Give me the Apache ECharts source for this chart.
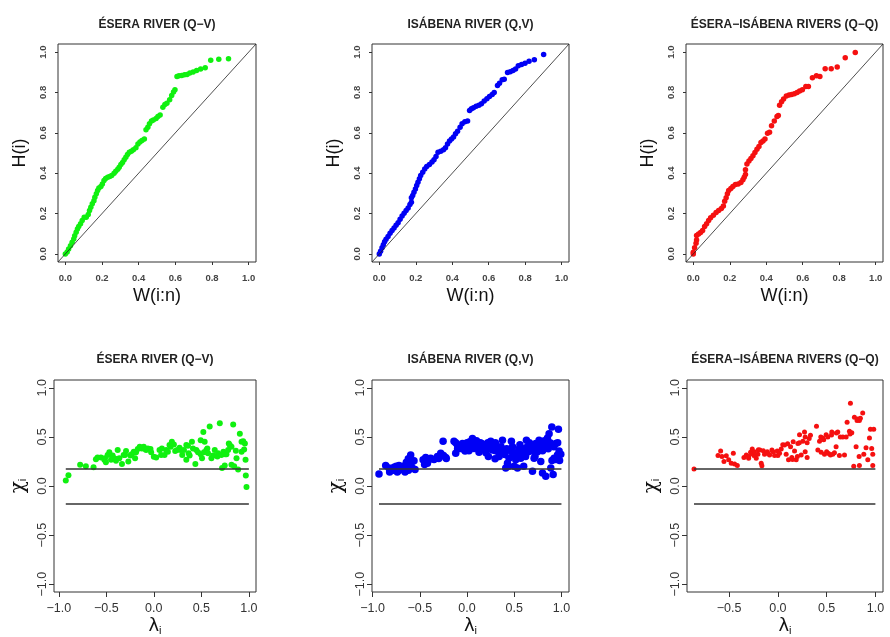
<!DOCTYPE html>
<html><head><meta charset="utf-8">
<script src="https://cdn.jsdelivr.net/npm/echarts@6/dist/echarts.min.js"></script>
<style>html,body{margin:0;padding:0;background:#fff}#c{width:890px;height:637px}</style>
</head><body><div id="c"></div>
<script>
// ---------- data ----------
const panelTitles = ['ÉSERA RIVER (Q\u2212V)', 'ISÁBENA RIVER (Q,V)', 'ÉSERA\u2212ISÁBENA RIVERS (Q\u2212Q)'];
const kTicks = [0, 0.2, 0.4, 0.6, 0.8, 1.0];
const chiTicks = [-1, -0.5, 0, 0.5, 1];
const lamTicks = [-1, -0.5, 0, 0.5, 1];
const chiCut = 0.18;
const lamEnd = 1.0;
const seriesColors = ['#10f010', '#0000f5', '#f51010'];

// K-plots: [W(i:n), H(i)]
const esK = [[0,0],[0.01,0.01],[0.018,0.025],[0.028,0.04],[0.037,0.058],[0.046,0.074],[0.051,0.09],[0.059,0.107],[0.066,0.124],[0.073,0.136],[0.083,0.149],[0.092,0.165],[0.103,0.182],[0.114,0.182],[0.125,0.195],[0.132,0.215],[0.139,0.231],[0.147,0.248],[0.156,0.264],[0.161,0.281],[0.169,0.298],[0.176,0.314],[0.183,0.327],[0.194,0.334],[0.202,0.347],[0.211,0.364],[0.22,0.374],[0.231,0.38],[0.242,0.383],[0.253,0.388],[0.266,0.4],[0.275,0.41],[0.286,0.42],[0.294,0.43],[0.303,0.443],[0.312,0.453],[0.321,0.466],[0.33,0.479],[0.339,0.493],[0.349,0.504],[0.36,0.509],[0.371,0.516],[0.385,0.526],[0.396,0.545],[0.407,0.555],[0.418,0.562],[0.431,0.569],[0.44,0.615],[0.45,0.628],[0.459,0.645],[0.47,0.658],[0.48,0.664],[0.495,0.671],[0.505,0.681],[0.517,0.688],[0.532,0.727],[0.543,0.74],[0.554,0.747],[0.569,0.764],[0.58,0.785],[0.59,0.802],[0.598,0.813],[0.609,0.879],[0.62,0.883],[0.635,0.884],[0.65,0.888],[0.664,0.889],[0.679,0.896],[0.697,0.901],[0.716,0.909],[0.738,0.916],[0.763,0.922],[0.793,0.959],[0.837,0.965],[0.89,0.967]];
const isK = [[0,0],[0.007,0.013],[0.015,0.03],[0.022,0.046],[0.029,0.06],[0.037,0.073],[0.048,0.086],[0.059,0.102],[0.07,0.116],[0.081,0.129],[0.092,0.142],[0.103,0.155],[0.114,0.172],[0.125,0.188],[0.136,0.202],[0.147,0.215],[0.158,0.228],[0.168,0.245],[0.176,0.256],[0.176,0.278],[0.183,0.289],[0.19,0.306],[0.198,0.322],[0.205,0.339],[0.212,0.355],[0.22,0.372],[0.227,0.388],[0.238,0.405],[0.249,0.421],[0.26,0.433],[0.275,0.443],[0.289,0.455],[0.3,0.466],[0.311,0.483],[0.322,0.504],[0.337,0.509],[0.352,0.516],[0.363,0.526],[0.374,0.545],[0.385,0.559],[0.396,0.569],[0.407,0.579],[0.418,0.595],[0.429,0.608],[0.443,0.628],[0.454,0.645],[0.469,0.655],[0.484,0.658],[0.495,0.711],[0.505,0.719],[0.516,0.724],[0.531,0.731],[0.546,0.737],[0.56,0.744],[0.575,0.757],[0.59,0.769],[0.604,0.78],[0.619,0.79],[0.63,0.8],[0.648,0.835],[0.659,0.846],[0.674,0.863],[0.685,0.865],[0.703,0.899],[0.718,0.902],[0.733,0.909],[0.747,0.916],[0.762,0.932],[0.78,0.939],[0.799,0.945],[0.821,0.955],[0.85,0.962],[0.901,0.988]];
const eiK = [[0,0],[0,0.008],[0.007,0.03],[0.015,0.053],[0.018,0.069],[0.018,0.091],[0.029,0.099],[0.04,0.106],[0.051,0.116],[0.062,0.136],[0.073,0.149],[0.084,0.165],[0.095,0.179],[0.11,0.192],[0.125,0.205],[0.139,0.215],[0.154,0.225],[0.165,0.238],[0.172,0.261],[0.18,0.278],[0.187,0.298],[0.194,0.314],[0.206,0.324],[0.217,0.334],[0.231,0.344],[0.246,0.347],[0.261,0.354],[0.272,0.367],[0.279,0.38],[0.286,0.393],[0.286,0.417],[0.294,0.446],[0.305,0.46],[0.316,0.473],[0.327,0.486],[0.338,0.502],[0.349,0.519],[0.36,0.532],[0.371,0.552],[0.382,0.559],[0.393,0.569],[0.407,0.598],[0.418,0.603],[0.429,0.635],[0.444,0.658],[0.459,0.681],[0.466,0.686],[0.473,0.737],[0.484,0.754],[0.495,0.767],[0.51,0.783],[0.525,0.787],[0.539,0.79],[0.554,0.793],[0.569,0.8],[0.583,0.807],[0.598,0.813],[0.617,0.83],[0.631,0.83],[0.653,0.873],[0.675,0.883],[0.694,0.879],[0.723,0.917],[0.756,0.917],[0.789,0.926],[0.833,0.972],[0.888,0.998]];

// Chi-plots: [lambda_i, chi_i]
const esChi = [[-0.926,0.057],[-0.898,0.11],[-0.775,0.217],[-0.715,0.2],[-0.634,0.19],[-0.609,0.273],[-0.592,0.29],[-0.556,0.29],[-0.521,0.267],[-0.514,0.283],[-0.504,0.243],[-0.486,0.317],[-0.468,0.343],[-0.45,0.267],[-0.433,0.31],[-0.423,0.283],[-0.405,0.277],[-0.398,0.257],[-0.38,0.367],[-0.363,0.283],[-0.335,0.223],[-0.317,0.317],[-0.303,0.317],[-0.292,0.357],[-0.268,0.25],[-0.246,0.31],[-0.232,0.323],[-0.211,0.35],[-0.197,0.283],[-0.187,0.343],[-0.169,0.377],[-0.148,0.4],[-0.127,0.383],[-0.106,0.4],[-0.092,0.377],[-0.081,0.367],[-0.063,0.383],[-0.035,0.377],[-0.028,0.343],[0,0.297],[0.025,0.29],[0.06,0.367],[0.077,0.317],[0.085,0.383],[0.113,0.317],[0.13,0.367],[0.148,0.35],[0.165,0.417],[0.176,0.4],[0.19,0.45],[0.211,0.423],[0.225,0.357],[0.246,0.367],[0.271,0.39],[0.282,0.367],[0.299,0.317],[0.317,0.367],[0.342,0.267],[0.342,0.417],[0.359,0.41],[0.366,0.333],[0.377,0.31],[0.401,0.45],[0.412,0.383],[0.437,0.223],[0.447,0.367],[0.465,0.343],[0.493,0.467],[0.493,0.323],[0.507,0.283],[0.521,0.55],[0.528,0.343],[0.535,0.45],[0.553,0.367],[0.563,0.383],[0.57,0.333],[0.588,0.607],[0.606,0.283],[0.623,0.31],[0.641,0.367],[0.669,0.3],[0.676,0.333],[0.694,0.64],[0.711,0.317],[0.718,0.183],[0.732,0.35],[0.746,0.21],[0.75,0.323],[0.764,0.323],[0.782,0.367],[0.789,0.433],[0.799,0.417],[0.817,0.217],[0.817,0.4],[0.835,0.627],[0.845,0.2],[0.863,0.36],[0.87,0.283],[0.887,0.167],[0.905,0.533],[0.923,0.35],[0.923,0.45],[0.94,0.457],[0.95,0.373],[0.958,0.433],[0.965,0.267],[0.968,0.107],[0.975,-0.01]];
const isChi = [[-0.933,0.123],[-0.862,0.21],[-0.827,0.183],[-0.82,0.143],[-0.78,0.16],[-0.774,0.19],[-0.75,0.2],[-0.739,0.143],[-0.721,0.21],[-0.72,0.16],[-0.68,0.17],[-0.678,0.2],[-0.657,0.143],[-0.643,0.243],[-0.64,0.2],[-0.622,0.277],[-0.62,0.16],[-0.6,0.22],[-0.597,0.317],[-0.58,0.183],[-0.58,0.25],[-0.562,0.257],[-0.551,0.167],[-0.466,0.267],[-0.45,0.22],[-0.438,0.29],[-0.43,0.24],[-0.42,0.233],[-0.4,0.27],[-0.385,0.283],[-0.35,0.27],[-0.314,0.3],[-0.3,0.28],[-0.279,0.333],[-0.254,0.457],[-0.25,0.31],[-0.226,0.29],[-0.22,0.28],[-0.138,0.457],[-0.12,0.333],[-0.12,0.44],[-0.102,0.417],[-0.1,0.38],[-0.078,0.383],[-0.05,0.38],[-0.049,0.433],[-0.021,0.357],[0,0.44],[0.004,0.4],[0.02,0.36],[0.028,0.45],[0.04,0.42],[0.057,0.483],[0.074,0.383],[0.08,0.44],[0.099,0.417],[0.1,0.46],[0.12,0.4],[0.127,0.343],[0.14,0.44],[0.155,0.433],[0.16,0.38],[0.18,0.367],[0.18,0.42],[0.2,0.34],[0.205,0.417],[0.22,0.44],[0.226,0.3],[0.24,0.38],[0.251,0.457],[0.26,0.43],[0.269,0.367],[0.28,0.42],[0.297,0.277],[0.3,0.36],[0.3,0.44],[0.322,0.4],[0.339,0.333],[0.34,0.3],[0.36,0.4],[0.375,0.467],[0.392,0.35],[0.4,0.32],[0.41,0.183],[0.42,0.38],[0.428,0.233],[0.44,0.2],[0.445,0.283],[0.46,0.36],[0.47,0.457],[0.48,0.3],[0.481,0.4],[0.498,0.333],[0.5,0.2],[0.516,0.267],[0.52,0.34],[0.534,0.183],[0.54,0.3],[0.551,0.377],[0.56,0.42],[0.569,0.283],[0.58,0.36],[0.587,0.317],[0.6,0.2],[0.615,0.383],[0.62,0.3],[0.629,0.467],[0.64,0.4],[0.65,0.35],[0.66,0.44],[0.675,0.417],[0.68,0.36],[0.693,0.15],[0.7,0.4],[0.71,0.283],[0.72,0.3],[0.728,0.433],[0.74,0.42],[0.746,0.35],[0.76,0.38],[0.763,0.467],[0.78,0.44],[0.781,0.25],[0.799,0.133],[0.8,0.36],[0.816,0.4],[0.82,0.46],[0.834,0.1],[0.84,0.42],[0.852,0.49],[0.86,0.38],[0.869,0.533],[0.88,0.44],[0.887,0.183],[0.898,0.6],[0.9,0.26],[0.912,0.117],[0.92,0.4],[0.922,0.283],[0.94,0.433],[0.94,0.27],[0.958,0.317],[0.96,0.44],[0.968,0.577],[0.975,0.357],[0.98,0.26],[0.993,0.323]];
const eiChi = [[-0.86,0.173],[-0.614,0.31],[-0.587,0.357],[-0.573,0.3],[-0.553,0.25],[-0.529,0.307],[-0.505,0.267],[-0.478,0.233],[-0.457,0.333],[-0.444,0.223],[-0.416,0.21],[-0.348,0.29],[-0.324,0.317],[-0.3,0.283],[-0.3,0.3],[-0.28,0.343],[-0.27,0.33],[-0.263,0.377],[-0.246,0.31],[-0.24,0.35],[-0.222,0.283],[-0.205,0.323],[-0.2,0.37],[-0.184,0.367],[-0.171,0.233],[-0.164,0.207],[-0.15,0.36],[-0.137,0.323],[-0.109,0.35],[-0.1,0.33],[-0.085,0.317],[-0.061,0.367],[-0.05,0.35],[-0.034,0.31],[-0.007,0.357],[0,0.31],[0.017,0.333],[0.034,0.377],[0.05,0.42],[0.068,0.417],[0.085,0.323],[0.1,0.43],[0.109,0.267],[0.13,0.4],[0.143,0.29],[0.15,0.27],[0.157,0.45],[0.171,0.357],[0.188,0.267],[0.2,0.3],[0.205,0.433],[0.22,0.44],[0.222,0.523],[0.239,0.317],[0.256,0.457],[0.273,0.55],[0.28,0.35],[0.28,0.5],[0.3,0.29],[0.3,0.44],[0.321,0.483],[0.334,0.517],[0.396,0.61],[0.41,0.367],[0.427,0.457],[0.44,0.5],[0.444,0.343],[0.461,0.49],[0.47,0.47],[0.478,0.323],[0.495,0.523],[0.5,0.35],[0.512,0.5],[0.52,0.33],[0.539,0.317],[0.55,0.52],[0.553,0.55],[0.563,0.323],[0.58,0.34],[0.597,0.4],[0.6,0.54],[0.614,0.55],[0.631,0.31],[0.64,0.5],[0.666,0.5],[0.683,0.317],[0.7,0.5],[0.71,0.65],[0.734,0.557],[0.74,0.53],[0.744,0.843],[0.758,0.543],[0.778,0.2],[0.785,0.7],[0.802,0.4],[0.812,0.667],[0.819,0.683],[0.833,0.3],[0.836,0.21],[0.836,0.667],[0.846,0.69],[0.87,0.743],[0.881,0.323],[0.904,0.39],[0.922,0.267],[0.939,0.49],[0.949,0.577],[0.962,0.383],[0.973,0.323],[0.973,0.21],[0.983,0.577]];

// ---------- layout ----------
const boxes = [
  {l:58, t:44, w:198, h:218}, {l:372, t:44, w:197, h:218}, {l:686, t:44, w:197, h:218},
  {l:54, t:380, w:202, h:217}, {l:372, t:380, w:197, h:217}, {l:687, t:380, w:196, h:217}
];
const xRanges = [[-0.04,1.04],[-0.04,1.04],[-0.04,1.04],[-1.05,1.075],[-1.007,1.08],[-0.932,1.078]];
const kRange = [-0.04, 1.04];
const chiRange = [-1.08, 1.08];
const kData = [esK, isK, eiK];
const chiData = [esChi, isChi, eiChi];
const kSizes = [5.5, 5.5, 5.5];
const chiSizes = [6, 7.5, 5];

const fmt = v => (v < 0 ? '\u2212' : '') + Math.abs(v).toFixed(1);
const FONT = '"Liberation Sans", Arial, sans-serif';

const grid = boxes.map(b => ({left:b.l, top:b.t, width:b.w, height:b.h, show:true, borderColor:'#333', borderWidth:1, backgroundColor:'transparent', containLabel:false}));
const xAxis = [], yAxis = [], series = [], graphic = [];

for (let i = 0; i < 6; i++) {
  const top = i < 3;
  const xt = top ? kTicks : lamTicks;
  const yt = top ? kTicks : chiTicks;
  xAxis.push({
    gridIndex:i, type:'value', min:xRanges[i][0], max:xRanges[i][1], position:'bottom',
    axisLine:{show:false, onZero:false}, splitLine:{show:false},
    axisTick:{show:true, length: top ? 3 : 5, customValues:xt, lineStyle:{color:'#333', width:1}},
    axisLabel:{customValues:xt, formatter:fmt, fontSize: top ? 9.5 : 12.5, fontWeight: top ? 'bold' : 'normal',
      color: top ? '#444' : '#333', margin: top ? 11 : 10, fontFamily:FONT},
    name: top ? 'W(i:n)' : '{a|λ}{b|i}', nameLocation:'middle', nameGap: top ? 25 : 25,
    nameTextStyle: top ? {fontSize:18, color:'#111', fontFamily:FONT}
      : {color:'#111', fontFamily:FONT, rich:{a:{fontSize:18, fontFamily:'"DejaVu Sans"', color:'#111'}, b:{fontSize:11, color:'#111', padding:[8,0,0,0]}}}
  });
  yAxis.push({
    gridIndex:i, type:'value', min: top ? kRange[0] : chiRange[0], max: top ? kRange[1] : chiRange[1], position:'left',
    axisLine:{show:false, onZero:false}, splitLine:{show:false},
    axisTick:{show:true, length: top ? 3 : 5, customValues:yt, lineStyle:{color:'#333', width:1}},
    axisLabel:{customValues:yt, formatter:fmt, rotate:90, fontSize: top ? 9.5 : 12.5, fontWeight: top ? 'bold' : 'normal',
      color: top ? '#444' : '#333', margin: top ? 10 : 5, fontFamily:FONT},
    name: top ? 'H(i)' : '{a|χ}{b|i}', nameLocation:'middle', nameGap: top ? 29 : 25,
    nameTextStyle: top ? {fontSize:18, color:'#111', fontFamily:FONT}
      : {color:'#111', fontFamily:FONT, rich:{a:{fontSize:20, fontFamily:'"DejaVu Serif"', color:'#111'}, b:{fontSize:11, color:'#111', padding:[8,0,0,0]}}}
  });

  const p = i % 3;
  if (top) {
    series.push({
      type:'scatter', xAxisIndex:i, yAxisIndex:i, data:kData[p], symbol:'circle', symbolSize:kSizes[p],
      itemStyle:{color:seriesColors[p], opacity:1}, silent:true, z:3,
      markLine:{silent:true, symbol:'none', label:{show:false}, animation:false,
        lineStyle:{color:'#222', width:0.8, type:'solid'},
        data:[[{coord:[kRange[0], kRange[0]]}, {coord:[kRange[1], kRange[1]]}]]}
    });
  } else {
    const lams = chiData[p].map(d => d[0]);
    const lMin = Math.min(...lams);
    series.push({
      type:'scatter', xAxisIndex:i, yAxisIndex:i, data:chiData[p], symbol:'circle', symbolSize:chiSizes[p],
      itemStyle:{color:seriesColors[p], opacity:1}, silent:true, z:3,
      markLine:{silent:true, symbol:'none', label:{show:false}, animation:false,
        lineStyle:{color:'#333', width:1.6, type:'solid'},
        data:[[{coord:[lMin, chiCut]}, {coord:[lamEnd, chiCut]}],
              [{coord:[lMin, -chiCut]}, {coord:[lamEnd, -chiCut]}]]}
    });
  }
  const b = boxes[i];
  graphic.push({type:'text', x:b.l + b.w/2, y: top ? 25 : 360,
    style:{text:panelTitles[p], fontSize:12, fontWeight:'bold', fontFamily:FONT, fill:'#222', align:'center', verticalAlign:'middle'}});
}

const chart = echarts.init(document.getElementById('c'), null, {renderer:'canvas'});
chart.setOption({animation:false, backgroundColor:'#fff', grid, xAxis, yAxis, series, graphic});
</script></body></html>
